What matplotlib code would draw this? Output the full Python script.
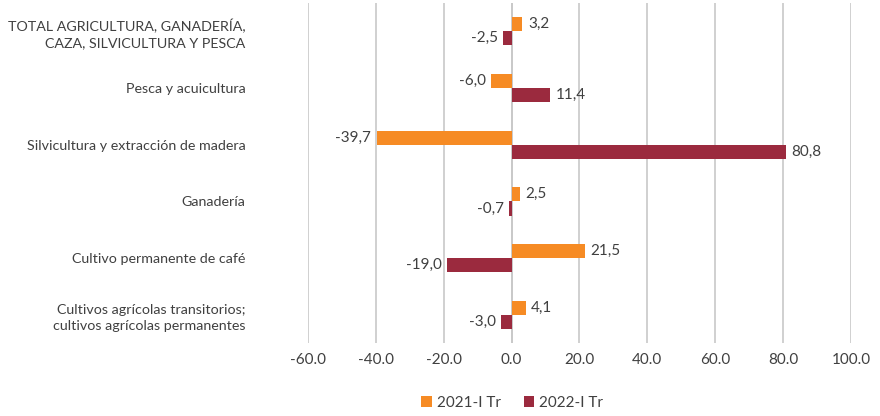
import matplotlib.pyplot as plt
import numpy as np

categories = [
    "TOTAL AGRICULTURA, GANADERÍA,\nCAZA, SILVICULTURA Y PESCA",
    "Pesca y acuicultura",
    "Silvicultura y extracción de madera",
    "Ganadería",
    "Cultivo permanente de café",
    "Cultivos agrícolas transitorios;\ncultivos agrícolas permanentes",
]
series_2021 = [3.2, -6.0, -39.7, 2.5, 21.5, 4.1]
series_2022 = [-2.5, 11.4, 80.8, -0.7, -19.0, -3.0]
series_names = ["2021-I Tr", "2022-I Tr"]
xticks = [-60, -40, -20, 0, 20, 40, 60, 80, 100]

plt.rcParams["font.family"] = ["Lato", "DejaVu Sans"]
text_color = "#404040"
orange = "#F68B24"
red = "#9B2A3E"
fs = 11

fig = plt.figure(figsize=(8.8, 4.16), dpi=100)
ax = fig.add_axes([0.35, 0.175, 0.617, 0.818])

y = np.arange(len(categories))
h = 0.25
b1 = ax.barh(y - h / 2, series_2021, height=h, color=orange, label=series_names[0], zorder=3)
b2 = ax.barh(y + h / 2, series_2022, height=h, color=red, label=series_names[1], zorder=3)

for bars, vals in ((b1, series_2021), (b2, series_2022)):
    for bar, v in zip(bars, vals):
        yc = bar.get_y() + bar.get_height() / 2
        txt = f"{v:.1f}".replace(".", ",")
        if v >= 0:
            ax.annotate(txt, (v, yc), xytext=(4, 0), textcoords="offset points",
                        ha="left", va="center", fontsize=fs, color=text_color)
        else:
            ax.annotate(txt, (v, yc), xytext=(-4, 0), textcoords="offset points",
                        ha="right", va="center", fontsize=fs, color=text_color)

ax.set_xlim(-60, 100)
ax.set_ylim(len(categories) - 0.5, -0.5)
ax.set_xticks(xticks)
ax.set_xticklabels([f"{t:.1f}" for t in xticks], fontsize=fs, color=text_color)
ax.set_yticks(y)
ax.set_yticklabels(categories, fontsize=10.3, color=text_color, linespacing=1.4)
ax.tick_params(axis="both", length=0)
ax.tick_params(axis="x", pad=7)
ax.tick_params(axis="y", pad=45)

ax.grid(axis="x", color="#c8c8c8", linewidth=1.2, zorder=0)
for s in ax.spines.values():
    s.set_visible(False)
ax.axvline(0, color="#c8c8c8", linewidth=1.2, zorder=2)

ax.legend(loc="upper center", bbox_to_anchor=(0.376, -0.115), ncol=2, frameon=False,
          fontsize=fs, handlelength=0.7, handleheight=0.7, handletextpad=0.3,
          columnspacing=1.5, labelcolor=text_color)

fig.savefig("out.png", dpi=100)
